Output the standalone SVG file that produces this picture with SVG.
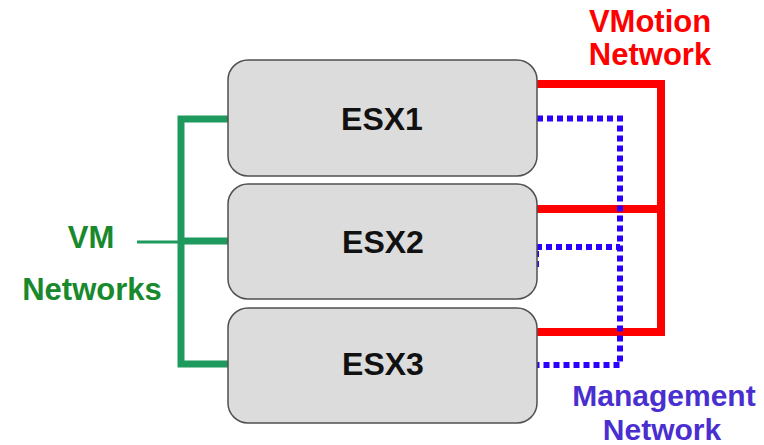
<svg xmlns="http://www.w3.org/2000/svg" width="764" height="445" viewBox="0 0 764 445">
<style>
.box{fill:#dcdcdc;stroke:#505050;stroke-width:1.5}
.lbl{font-family:"Liberation Sans",Arial,sans-serif;font-weight:bold;text-anchor:middle}
.esx{font-size:32px;fill:#111}
.net{font-size:31px}
.mgmt{font-size:30px}
.green{fill:none;stroke:#1f9a5f;stroke-width:7}
.red{fill:none;stroke:#ff0000;stroke-width:8}
.blue{fill:none;stroke:#2a00ff;stroke-width:6;stroke-dasharray:6 4}
</style>
<rect width="764" height="445" fill="#ffffff"/>
<g id="connectors">
<path class="green" d="M228 119H181V364H228M181 241H228"/>
<path d="M137 242H181" fill="none" stroke="#1f9a5f" stroke-width="3"/>
<path class="red" d="M537 84H661V332H537M537 209H661"/>
<path class="blue" d="M537 118.5H620V365H537"/>
<path class="blue" d="M536 267V247H620"/>
</g>
<g id="esx1">
<rect class="box" x="228" y="60" width="309" height="116" rx="20"/>
<text class="lbl esx" x="382" y="130">ESX1</text>
</g>
<g id="esx2">
<rect class="box" x="228" y="184" width="309" height="115" rx="20"/>
<text class="lbl esx" x="383" y="253">ESX2</text>
</g>
<g id="esx3">
<rect class="box" x="228" y="308" width="309" height="115" rx="20"/>
<text class="lbl esx" x="383" y="375">ESX3</text>
</g>
<g id="vm-networks">
<text class="lbl net" x="91" y="248" fill="#18892c">VM</text>
<text class="lbl net" x="92" y="300" fill="#18892c">Networks</text>
</g>
<g id="vmotion-network">
<text class="lbl net" x="650" y="32" fill="#ff0000">VMotion</text>
<text class="lbl net" x="650" y="65" fill="#ff0000">Network</text>
</g>
<g id="management-network">
<text class="lbl mgmt" x="664" y="406" fill="#4a2fd0">Management</text>
<text class="lbl mgmt" x="662" y="440" fill="#4a2fd0">Network</text>
</g>
</svg>
